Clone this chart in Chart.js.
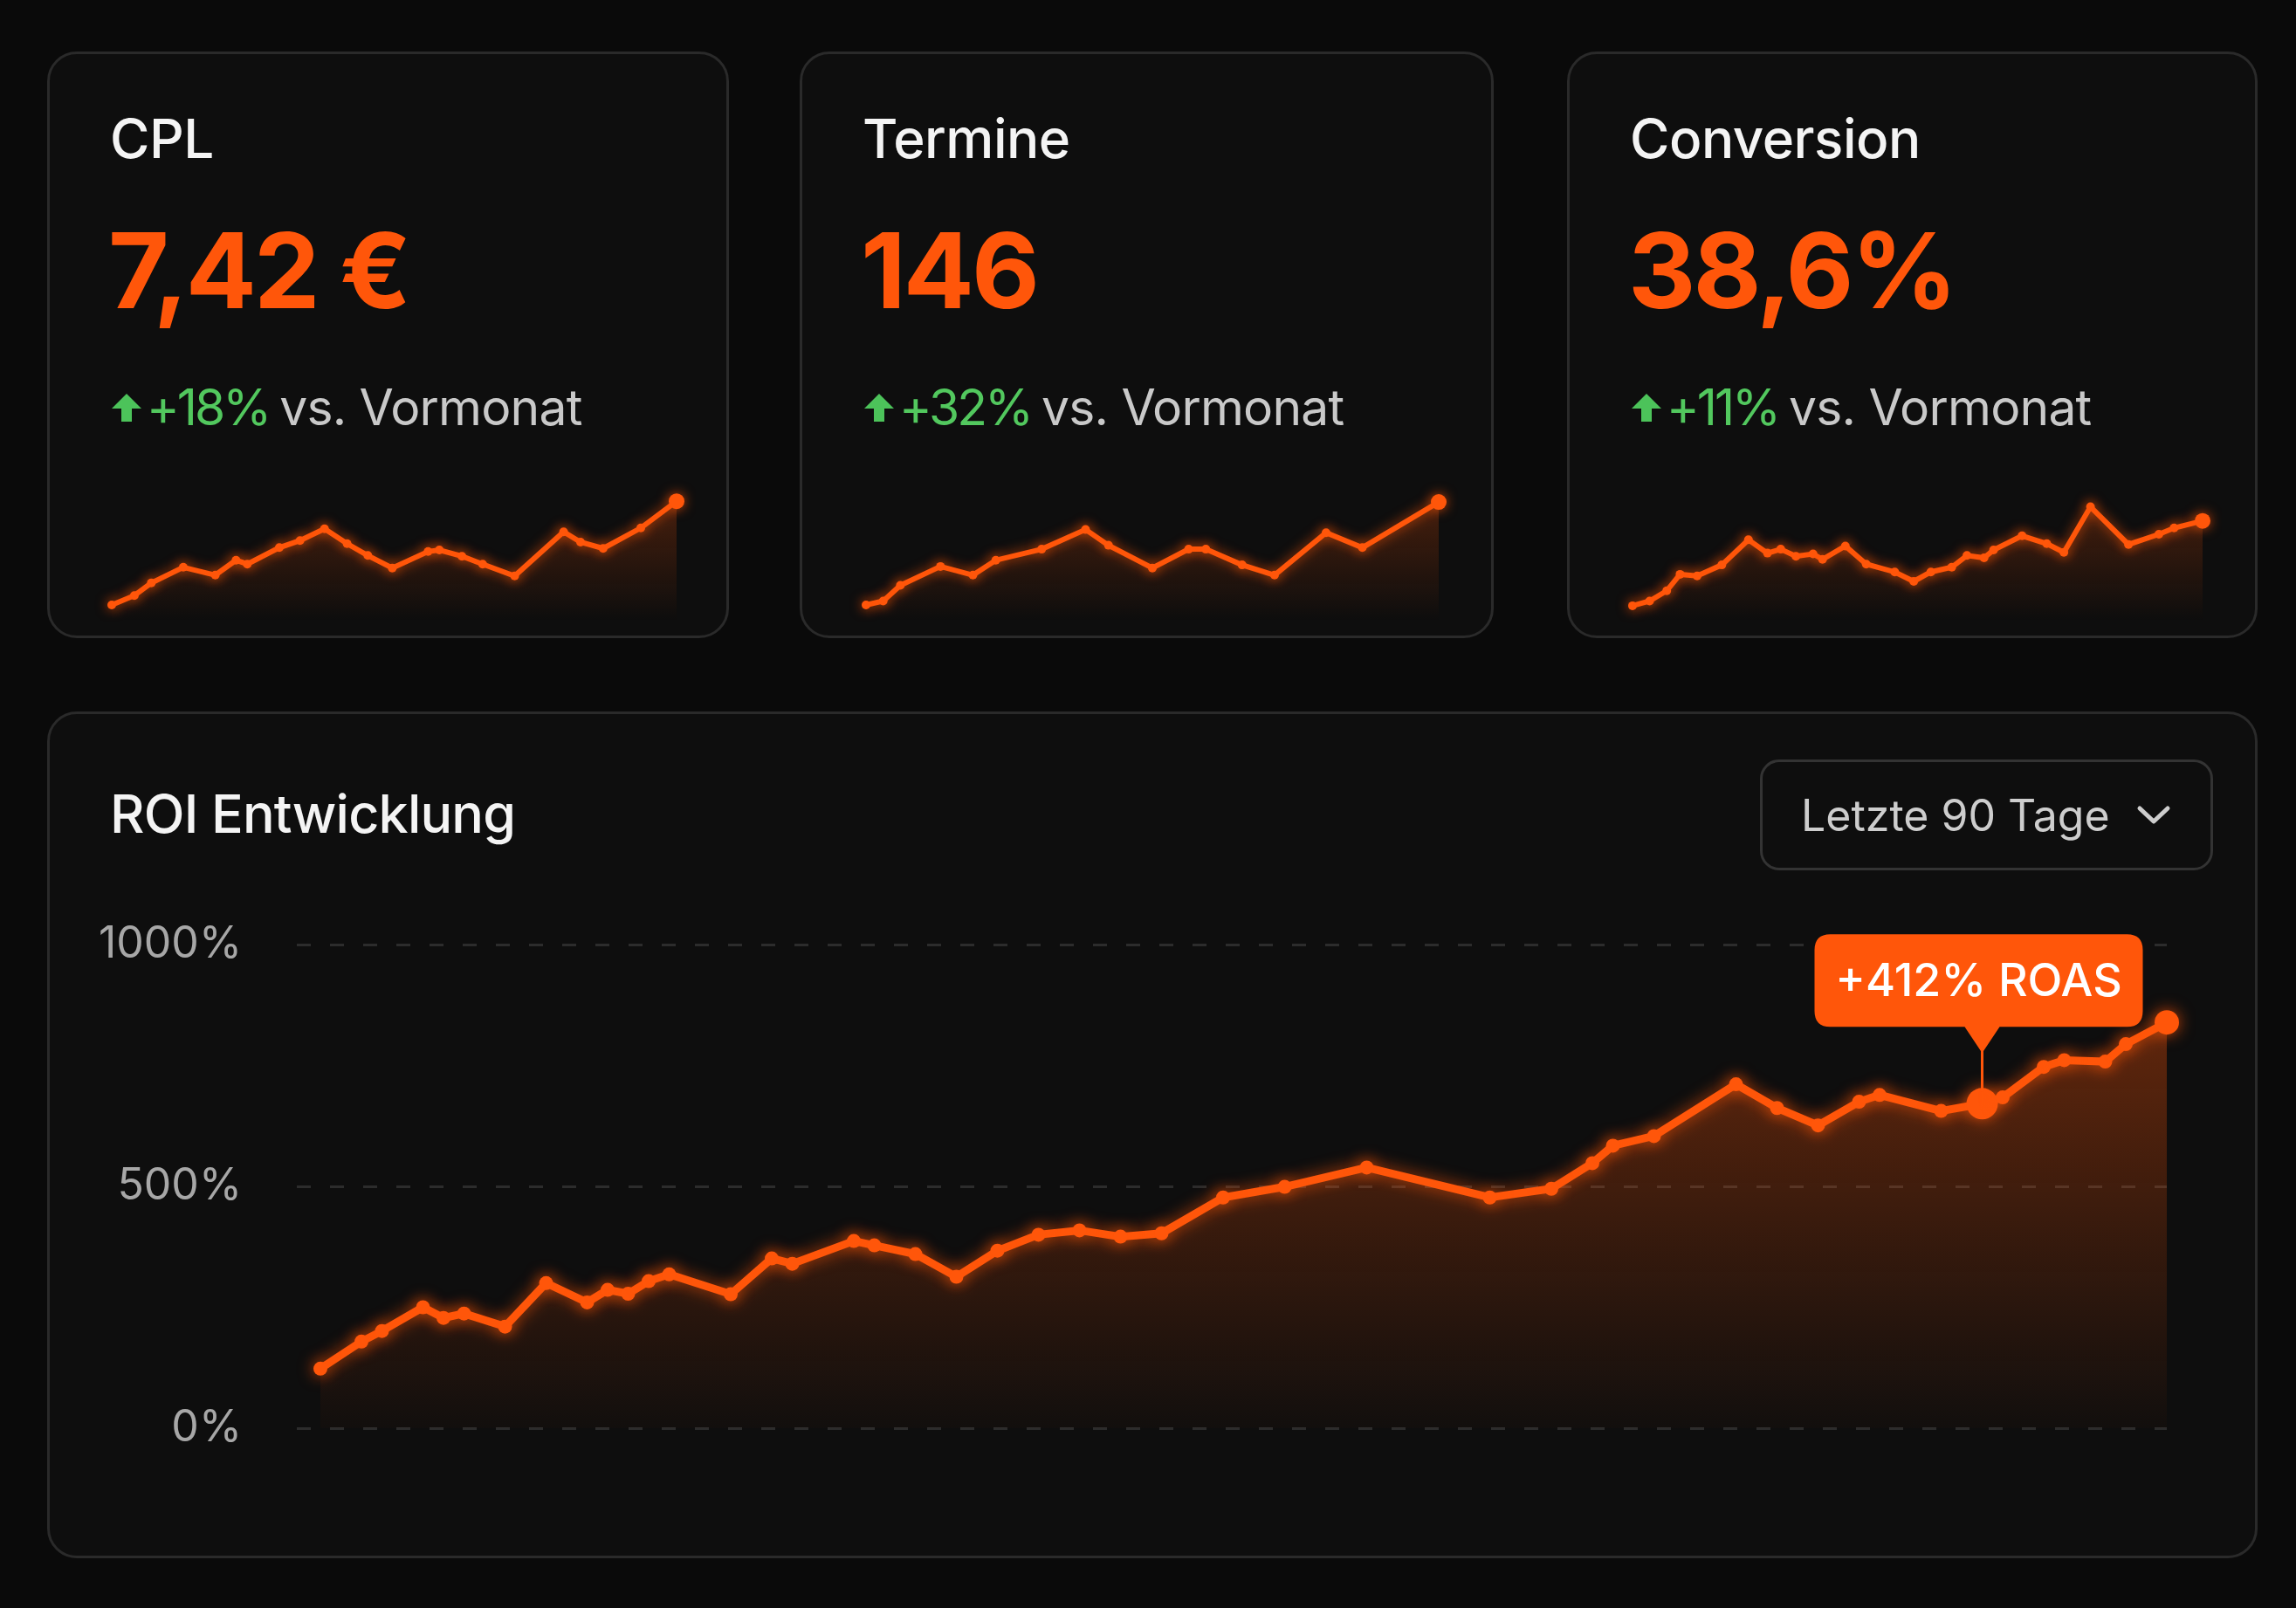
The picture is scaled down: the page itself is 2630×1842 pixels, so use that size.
<!DOCTYPE html>
<html lang="de">
<head>
<meta charset="utf-8">
<script src="https://cdn.jsdelivr.net/npm/chart.js@4.4.1/dist/chart.umd.min.js"></script>
<style>
  html, body { margin: 0; padding: 0; }
  body { width: 2630px; height: 1842px; background: #0a0a0a; position: relative; overflow: hidden;
         font-family: Inter, "Noto Sans", "DejaVu Sans", sans-serif; }
  .panel { position: absolute; box-sizing: border-box; border: 3px solid #2a2a2a; border-radius: 34px;
           background: #0e0e0e; }
  .txt { position: absolute; white-space: nowrap; line-height: 1; }
  .title { font-size: 62px; font-weight: 500; color: #f4f4f4; letter-spacing: -0.5px; }
  .value { font-size: 120px; font-weight: 700; color: #ff560a; letter-spacing: -3px; }
  .change { font-size: 57px; font-weight: 400; color: #c9c9c9; display: flex; align-items: center; letter-spacing: -0.8px; }
  .change .pct { color: #52c85e; margin-right: 12px; letter-spacing: -3px; }
  .change svg { margin-right: 4px; }
  .dropdown { position: absolute; box-sizing: border-box; border: 3px solid #333; border-radius: 22px;
              background: #0e0e0e; color: #cdcdcd; font-size: 50px; display: flex; align-items: center; }
  canvas { position: absolute; }
</style>
</head>
<body>
<div id="root"></div>
<canvas id="spark0"></canvas>
<canvas id="spark1"></canvas>
<canvas id="spark2"></canvas>
<canvas id="roiChart"></canvas>
<script>
// ---------------- DATA ----------------
const kpiTitles  = ['CPL', 'Termine', 'Conversion'];
const kpiValues  = ['7,42 €', '146', '38,6%'];
const kpiChanges = ['+18%', '+32%', '+11%'];
const kpiSuffix  = 'vs. Vormonat';

// sparkline data (day within month, relative level)
const cplDays   = [0, 1.2, 2.1, 3.8, 5.5, 6.6, 7.2, 8.9, 10.0, 11.3, 12.5, 13.6, 14.9, 16.8, 17.4, 18.6, 19.7, 21.4, 24.0, 24.9, 26.1, 28.1, 30];
const cplValues = [10, 22, 38, 58, 48, 67, 62, 83, 92, 107, 88, 73, 57, 78, 80, 72, 62, 47, 103, 90, 82, 108, 142];

const termineDays   = [0, 0.9, 1.8, 3.9, 5.6, 6.8, 9.2, 11.5, 12.7, 15.0, 16.9, 17.8, 19.7, 21.4, 24.1, 26.0, 30];
const termineValues = [10, 15, 35, 59, 48, 67, 81, 106, 86, 57, 81, 81, 61, 48, 102, 83, 141];

const convDays   = [0, 0.9, 1.8, 2.5, 3.4, 4.7, 6.1, 7.1, 7.8, 8.6, 9.5, 10.0, 11.2, 12.3, 13.8, 14.8, 15.7, 16.8, 17.6, 18.5, 19.0, 20.5, 21.8, 22.7, 24.1, 26.1, 27.7, 28.5, 30];
const convValues = [9, 15, 28, 49, 47, 61, 93, 76, 81, 72, 75, 68, 85, 62, 52, 40, 52, 58, 73, 70, 80, 98, 88, 77, 135, 87, 100, 108, 117];

// ROI development, last 90 days
const roiTitle  = 'ROI Entwicklung';
const rangeText = 'Letzte 90 Tage';
const roiDays   = [0, 2, 3, 5, 6, 7, 9, 11, 13, 14, 15, 16, 17, 20, 22, 23, 26, 27, 29, 31, 33, 35, 37, 39, 41, 44, 47, 51, 57, 60, 62, 63, 65, 69, 71, 73, 75, 76, 79, 81, 82, 84, 85, 87, 88, 90];
const roiValues = [123, 179, 201, 250, 228, 237, 210, 300, 260, 286, 278, 304, 318, 277, 351, 340, 387, 378, 360, 313, 367, 400, 409, 396, 403, 477, 499, 539, 477, 495, 548, 584, 604, 711, 662, 626, 675, 689, 656, 671, 684, 747, 761, 758, 794, 839];
const yTicks    = [0, 500, 1000];
const roasDay   = 81;
const roasLabel = '+412% ROAS';

// ---------------- LAYOUT ----------------
const ORANGE = '#ff560a';
const cards = [
  { left: 54,  width: 781, spark: [127.5, 775] },
  { left: 916, width: 795, spark: [991.5, 1648] },
  { left: 1795, width: 791, spark: [1870, 2523] }
];
const root = document.getElementById('root');
function el(tag, cls, style, html) {
  const e = document.createElement(tag);
  if (cls) e.className = cls;
  Object.assign(e.style, style || {});
  if (html !== undefined) e.innerHTML = html;
  root.appendChild(e);
  return e;
}
const arrowSvg = '<svg width="38" height="38" viewBox="0 0 38 38"><path d="M19 3 L36 20 L25 20 L25 35 L13 35 L13 20 L2 20 Z" fill="#4cc35a"/></svg>';

cards.forEach((c, i) => {
  el('div', 'panel', { left: c.left + 'px', top: '59px', width: c.width + 'px', height: '672px' });
  const tx = c.left + 72;
  el('div', 'txt title', { left: tx + 'px', top: '128px' }, kpiTitles[i]);
  el('div', 'txt value', { left: (tx - 2) + 'px', top: '250px' }, kpiValues[i]);
  el('div', 'txt change', { left: tx + 'px', top: '438px' },
     arrowSvg + '<span class="pct">' + kpiChanges[i] + '</span><span>' + kpiSuffix + '</span>');
});
el('div', 'panel', { left: '54px', top: '815px', width: '2532px', height: '970px' });
el('div', 'txt title', { left: '126px', top: '902px', fontSize: '61px', letterSpacing: '-0.8px' }, roiTitle);
el('div', 'dropdown', { left: '2016px', top: '870px', width: '519px', height: '127px', paddingLeft: '44px' },
   '<span>' + rangeText + '</span><svg style="margin-left:30px" width="40" height="26" viewBox="0 0 40 26"><path d="M4 5 L20 20 L36 5" fill="none" stroke="#cdcdcd" stroke-width="5" stroke-linecap="round" stroke-linejoin="round"/></svg>');

// ---------------- CHARTS ----------------
Chart.defaults.font.family = 'Inter, "Noto Sans", sans-serif';
Chart.defaults.animation = false;

const glowPlugin = {
  id: 'glow',
  beforeDatasetDraw(chart, args) {
    const ds = chart.data.datasets[args.index];
    if (!ds.glow) return;
    chart.ctx.save();
    chart.ctx.shadowColor = 'rgba(255, 86, 10, 0.75)';
    chart.ctx.shadowBlur = ds.glow;
  },
  afterDatasetDraw(chart, args) {
    const ds = chart.data.datasets[args.index];
    if (!ds.glow) return;
    chart.ctx.restore();
  }
};

function vGradient(top, a0, a1) {
  return (ctx) => {
    const chart = ctx.chart;
    const area = chart.chartArea;
    if (!area) return 'rgba(255,86,10,0.1)';
    const g = chart.ctx.createLinearGradient(0, top === null ? area.top : top, 0, area.bottom);
    g.addColorStop(0, 'rgba(255,86,10,' + a0 + ')');
    g.addColorStop(1, 'rgba(255,86,10,' + a1 + ')');
    return g;
  };
}

function sparkline(idx, days, vals) {
  const c = cards[idx];
  const cv = document.getElementById('spark' + idx);
  const pad = 22;
  const left = c.spark[0] - pad, width = (c.spark[1] - c.spark[0]) + 2 * pad;
  cv.width = width; cv.height = 180;
  cv.style.left = left + 'px'; cv.style.top = '540px';
  const pts = days.map((d, k) => ({ x: d, y: vals[k] }));
  const radii = vals.map((v, k) => k === vals.length - 1 ? 9 : 5);
  new Chart(cv, {
    type: 'line',
    data: { datasets: [
      { data: pts, borderWidth: 0, pointRadius: 0, fill: 'start', backgroundColor: vGradient(null, 0.28, 0.0), clip: false },
      { data: pts, borderColor: ORANGE, borderWidth: 6, pointRadius: radii, pointBackgroundColor: ORANGE,
        pointBorderWidth: 0, fill: false, glow: 14, clip: false, tension: 0 }
    ]},
    options: {
      responsive: false, devicePixelRatio: 1,
      layout: { padding: { left: pad, right: pad, top: 0, bottom: 0 } },
      plugins: { legend: { display: false }, tooltip: { enabled: false } },
      scales: {
        x: { type: 'linear', min: 0, max: 30, display: false },
        y: { min: -10, max: 170, display: false }
      }
    },
    plugins: [glowPlugin]
  });
}
sparkline(0, cplDays, cplValues);
sparkline(1, termineDays, termineValues);
sparkline(2, convDays, convValues);

// main ROI chart
const ROI_TOP = 989;
const roiCv = document.getElementById('roiChart');
roiCv.width = 2460; roiCv.height = 740;
roiCv.style.left = '100px'; roiCv.style.top = ROI_TOP + 'px';
const roiPts = roiDays.map((d, k) => ({ x: d, y: roiValues[k] }));
const hiIdx = roiDays.indexOf(roasDay);
const roiRadii = roiDays.map((d, k) => k === hiIdx ? 18 : (k === roiDays.length - 1 ? 14 : 8));

const calloutPlugin = {
  id: 'callout',
  afterDatasetsDraw(chart) {
    const meta = chart.getDatasetMeta(1);
    const p = meta.data[hiIdx];
    if (!p) return;
    const ctx = chart.ctx;
    const x = p.x, y = p.y;
    const w = 376, h = 106, r = 18;
    const bottom = y - 88, top = bottom - h, left = x - w / 2 - 4;
    ctx.save();
    ctx.strokeStyle = ORANGE; ctx.lineWidth = 3;
    ctx.beginPath(); ctx.moveTo(x, bottom + 20); ctx.lineTo(x, y - 14); ctx.stroke();
    ctx.fillStyle = '#ff560a';
    ctx.beginPath();
    ctx.moveTo(left + r, top);
    ctx.lineTo(left + w - r, top); ctx.quadraticCurveTo(left + w, top, left + w, top + r);
    ctx.lineTo(left + w, bottom - r); ctx.quadraticCurveTo(left + w, bottom, left + w - r, bottom);
    ctx.lineTo(x + 20, bottom); ctx.lineTo(x, bottom + 30); ctx.lineTo(x - 20, bottom);
    ctx.lineTo(left + r, bottom); ctx.quadraticCurveTo(left, bottom, left, bottom - r);
    ctx.lineTo(left, top + r); ctx.quadraticCurveTo(left, top, left + r, top);
    ctx.closePath(); ctx.fill();
    ctx.fillStyle = '#ffffff';
    ctx.font = '500 52px Inter, "Noto Sans", sans-serif';
    ctx.textAlign = 'center'; ctx.textBaseline = 'middle';
    ctx.fillText(roasLabel, left + w / 2, top + h / 2 + 2);
    ctx.restore();
  }
};

new Chart(roiCv, {
  type: 'line',
  data: { datasets: [
    { data: roiPts, borderWidth: 0, pointRadius: 0, fill: 'origin', backgroundColor: vGradient(1170 - ROI_TOP, 0.34, 0.02) },
    { data: roiPts, borderColor: ORANGE, borderWidth: 9, pointRadius: roiRadii, pointBackgroundColor: ORANGE,
      pointBorderWidth: 0, fill: false, glow: 18, clip: false, tension: 0 }
  ]},
  options: {
    responsive: false, devicePixelRatio: 1,
    layout: { padding: { left: 0, right: 78, top: 43, bottom: 64 } },
    plugins: { legend: { display: false }, tooltip: { enabled: false } },
    scales: {
      x: { type: 'linear', min: -1.15, max: 90, display: false },
      y: {
        min: 0, max: 1000,
        afterBuildTicks: (s) => { s.ticks = yTicks.map(v => ({ value: v })); },
        afterFit: (s) => { s.width = 240; },
        ticks: { color: '#a7a7a7', font: { size: 50, weight: 400 }, padding: 63, callback: (v) => v + '%' },
        grid: { color: '#2c2c2c', lineWidth: 3, drawTicks: false },
        border: { display: false, dash: [16, 22] }
      }
    }
  },
  plugins: [glowPlugin, calloutPlugin]
});
</script>
</body>
</html>
